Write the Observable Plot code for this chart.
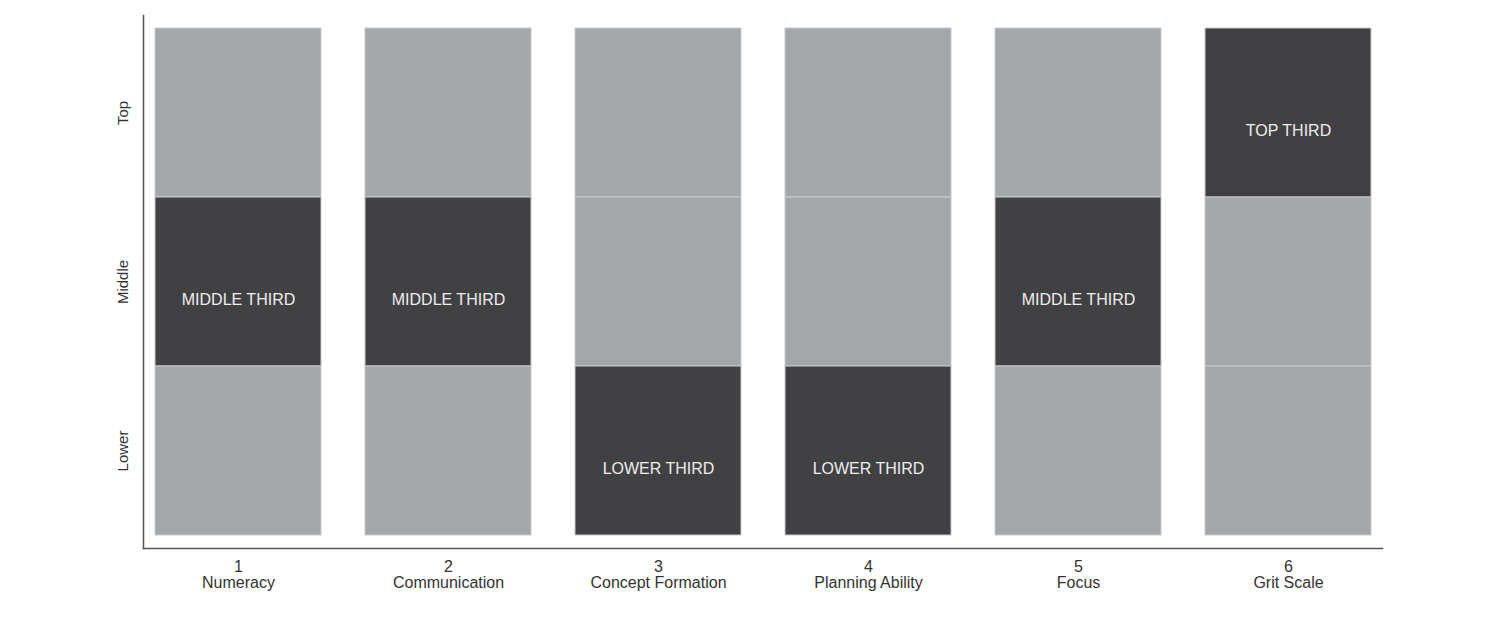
<!DOCTYPE html>
<html>
<head>
<script src="https://cdn.jsdelivr.net/npm/d3@7"></script>
<script src="https://cdn.jsdelivr.net/npm/@observablehq/plot@0.6"></script>
<style>
  body { margin: 0; background: #fff; }
</style>
</head>
<body>
<div id="chart"></div>
<script>
const categories = ["Numeracy", "Communication", "Concept Formation", "Planning Ability", "Focus", "Grit Scale"]
const levels = ["Top", "Middle", "Lower"]
const scores = ["Middle", "Middle", "Lower", "Lower", "Middle", "Top"]
const thirdLabels = {Top: "TOP THIRD", Middle: "MIDDLE THIRD", Lower: "LOWER THIRD"}

const cells = categories.flatMap((c, i) => levels.map(l => ({
  category: c,
  level: l,
  hit: scores[i] === l
})))
const hits = cells.filter(d => d.hit)

let chart = Plot.plot({
  width: 1508,
  height: 618,
  marginLeft: 143,
  marginRight: 126,
  marginTop: 15,
  marginBottom: 70,
  style: {fontFamily: "Liberation Sans, Arial, sans-serif", background: "#fff"},
  x: {domain: categories, range: [133, 1393], paddingInner: 0.21, paddingOuter: 0.105, label: null},
  y: {domain: levels, range: [27, 536], padding: 0, label: null},
  marks: [
    Plot.cell(cells, {
      x: "category",
      y: "level",
      fill: d => d.hit ? "#414143" : "#a4a7aa",
      stroke: "#c8cacc",
      strokeWidth: 1,
      inset: 0
    }),
    Plot.text(hits, {
      x: "category",
      y: "level",
      text: d => thirdLabels[d.level],
      frameAnchor: "top",
      dy: 12,
      lineAnchor: "top",
      fill: "#eeeeee",
      fontSize: 16
    }),
    Plot.frame({anchor: "left", stroke: "#555", strokeWidth: 1.5}),
    Plot.frame({anchor: "bottom", stroke: "#555", strokeWidth: 1.5}),
    Plot.axisY({tickSize: 0, tickRotate: -90, tickPadding: 16, fontSize: 15, fill: "#333"}),
    Plot.axisX({
      tickSize: 0,
      tickPadding: 12,
      fontSize: 16,
      fill: "#333",
      tickFormat: d => `${categories.indexOf(d) + 1}\n${d}`
    })
  ]
})

d3.select("#chart").append(() => chart)
</script>
</body>
</html>
